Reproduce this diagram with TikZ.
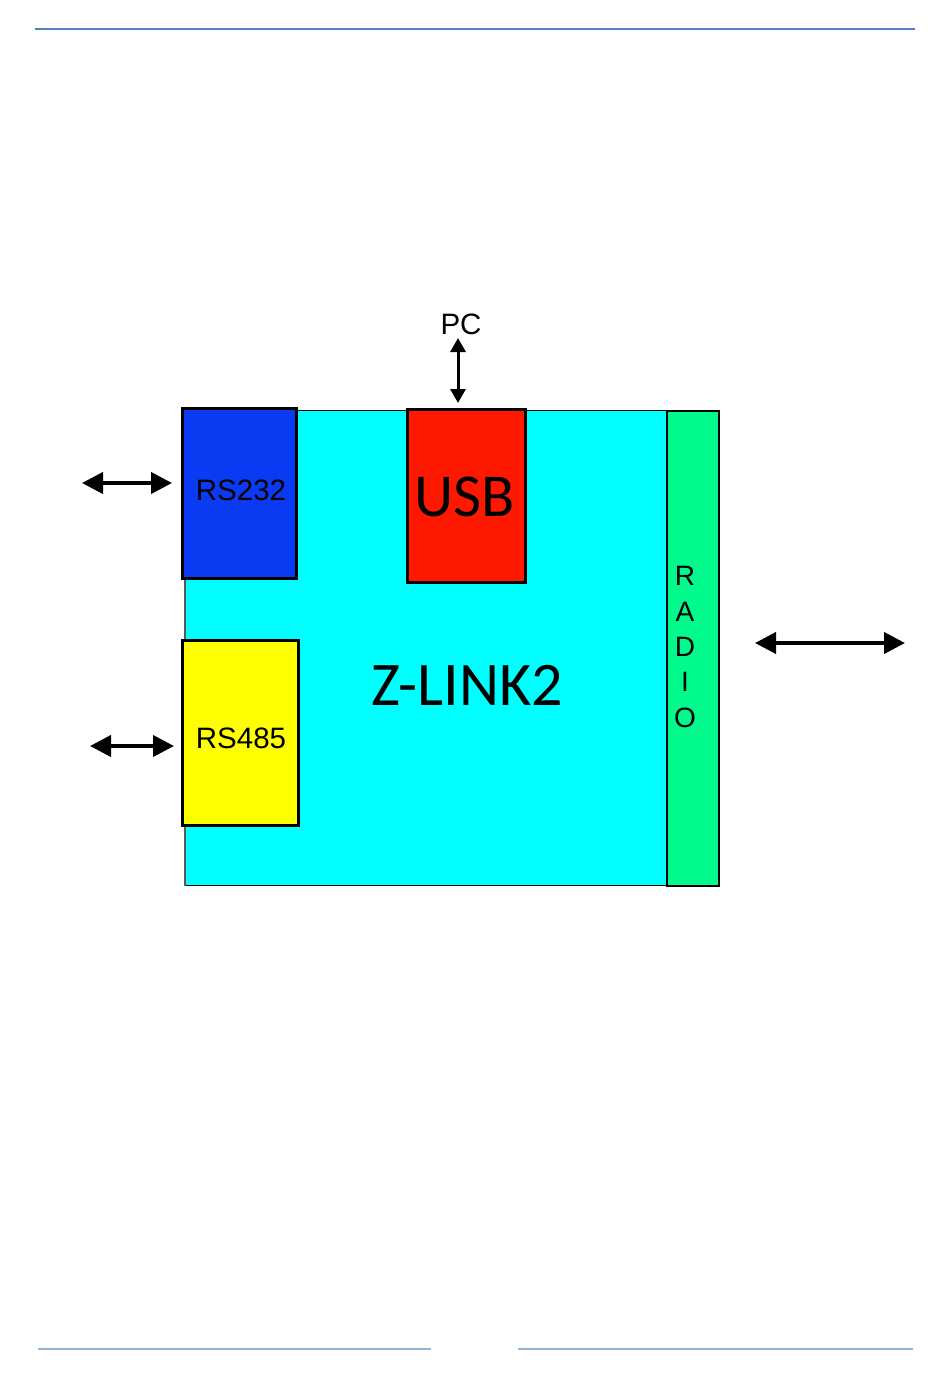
\documentclass[tikz,border=0pt]{standalone}
\usepackage{fontspec}
\setmainfont{Liberation Sans}
\newfontfamily\calib{Carlito}
\usetikzlibrary{arrows.meta}
\definecolor{cBlue}{RGB}{10,58,242}
\definecolor{cRed}{RGB}{255,24,0}
\definecolor{cCyan}{RGB}{0,255,255}
\definecolor{cYellow}{RGB}{255,255,0}
\definecolor{cGreen}{RGB}{0,250,140}
\definecolor{topline}{RGB}{79,129,189}
\definecolor{botline}{RGB}{149,179,215}
\tikzset{
  blockbox/.style={draw=black, line width=2.5pt, inner sep=0pt, anchor=north west},
  dar/.style={line width=4pt, {Triangle[length=21pt,width=21pt]}-{Triangle[length=21pt,width=21pt]}},
  thindar/.style={line width=3pt, {Triangle[length=14pt,width=15pt]}-{Triangle[length=14pt,width=15pt]}},
  arialtxt/.style={font=\fontsize{29.5}{34}\selectfont, inner sep=0pt},
  calibtxt/.style={font=\calib\fontsize{61}{70}\selectfont, inner sep=0pt},
}
\begin{document}
\begin{tikzpicture}[x=1pt,y=-1pt]
\useasboundingbox (0,0) rectangle (950,1397);
% rules
\draw[topline, line width=1.5pt] (35,29) -- (915,29);
\draw[botline, line width=1.5pt] (38,1349) -- (431,1349);
\draw[botline, line width=1.5pt] (518,1349) -- (913,1349);
% main board
\node[draw=black, line width=1pt, fill=cCyan, inner sep=0pt, anchor=north west,
      minimum width=481pt, minimum height=475pt] (board) at (185,410) {};
\draw[gray!70!black, line width=1.5pt] (board.north west) -- (board.south west);
\node[calibtxt, font=\calib\fontsize{62}{70}\selectfont] (zlink) at (467,685) {Z-LINK2};
% blocks
\node[blockbox, fill=cBlue, minimum width=114pt, minimum height=170pt] (rs232) at (181,407) {};
\node[arialtxt] (rs232t) at (241,490) {RS232};
\node[blockbox, fill=cRed, minimum width=118pt, minimum height=173pt] (usb) at (406,408) {};
\node[calibtxt] (usbt) at (465,497) {USB};
\node[blockbox, fill=cYellow, minimum width=116pt, minimum height=185pt] (rs485) at (181,639) {};
\node[arialtxt] (rs485t) at (241,738) {RS485};
\node[blockbox, line width=2pt, fill=cGreen, minimum width=52pt, minimum height=475pt] (radio) at (666,410) {};
\node[font=\fontsize{28}{35.3}\selectfont, align=center, inner sep=0pt] (radiot) at (685,647) {R\\A\\D\\I\\O};
% PC
\node[arialtxt] (pc) at (461,324) {PC};
% connectors
\coordinate (pctop) at (458,338);
\coordinate (pcbot) at (458,403);
\draw[thindar] (pctop) -- (pcbot);
\coordinate (l1) at (82,483);
\coordinate (l1e) at (172,483);
\draw[dar] (l1) -- (l1e);
\coordinate (l2) at (90,746);
\coordinate (l2e) at (174,746);
\draw[dar] (l2) -- (l2e);
\coordinate (r1) at (755,643);
\coordinate (r1e) at (905,643);
\draw[dar] (r1) -- (r1e);
\end{tikzpicture}
\end{document}
